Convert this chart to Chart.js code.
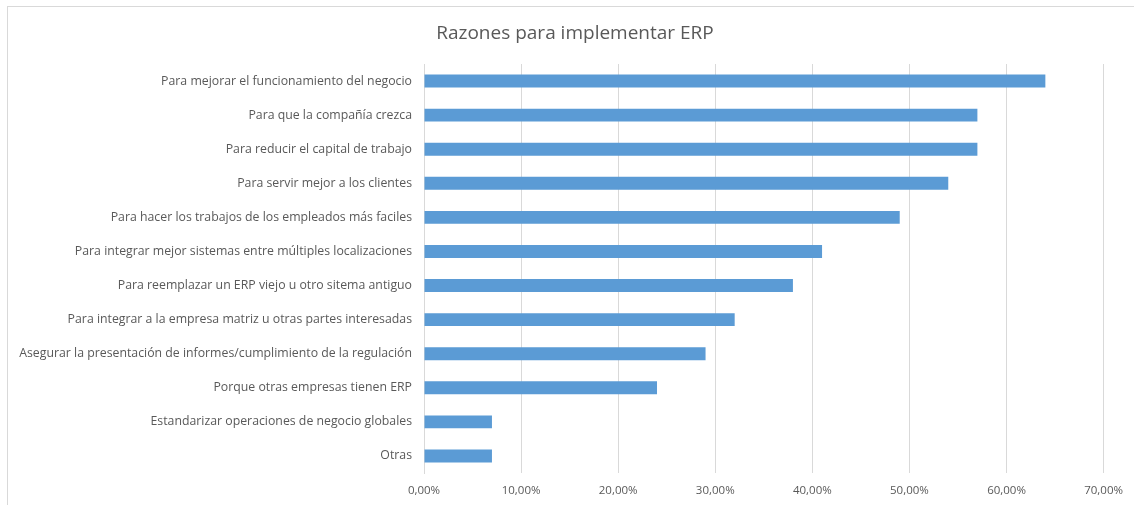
<!DOCTYPE html>
<html>
<head>
<meta charset="utf-8">
<script src="https://cdn.jsdelivr.net/npm/chart.js@4/dist/chart.umd.min.js"></script>
<style>
    html, body { margin: 0; padding: 0; background: #fff; overflow: hidden; }
    #wrap { position: relative; width: 1134px; height: 505px; }
    #frame {
        position: absolute; left: 7px; top: 6px; width: 1200px; height: 600px;
        border-left: 1px solid #d9d9d9; border-top: 1px solid #d9d9d9;
        pointer-events: none;
    }
</style>
</head>
<body>
<div id="wrap">
    <canvas id="chart" width="1134" height="505"></canvas>
    <div id="frame"></div>
</div>
<script>
// data
const chartTitle = 'Razones para implementar ERP';
const categories = [
    'Para mejorar el funcionamiento del negocio',
    'Para que la compañía crezca',
    'Para reducir el capital de trabajo',
    'Para servir mejor a los clientes',
    'Para hacer los trabajos de los empleados más faciles',
    'Para integrar mejor sistemas entre múltiples localizaciones',
    'Para reemplazar un ERP viejo u otro sitema antiguo',
    'Para integrar a la empresa matriz u otras partes interesadas',
    'Asegurar la presentación de informes/cumplimiento de la regulación',
    'Porque otras empresas tienen ERP',
    'Estandarizar operaciones de negocio globales',
    'Otras',
];
const shares = [0.64, 0.57, 0.57, 0.54, 0.49, 0.41, 0.38, 0.32, 0.29, 0.24, 0.07, 0.07];
const xTicks = [0, 0.1, 0.2, 0.3, 0.4, 0.5, 0.6, 0.7];

const FONT = "'Open Sans', sans-serif";
const TEXT = '#595959';
const GRID = '#d9d9d9';

function pct(v) {
    return (v * 100).toFixed(2).replace('.', ',') + '%';
}

// title drawn by hand: the built-in one centres on the whole canvas,
// the original sits a bit further right (centred over the frame)
const titlePlugin = {
    id: 'centredTitle',
    afterDraw(chart) {
        const ctx = chart.ctx;
        ctx.save();
        ctx.font = `normal 19px ${FONT}`;
        ctx.fillStyle = TEXT;
        ctx.textAlign = 'center';
        ctx.textBaseline = 'middle';
        ctx.fillText(chartTitle, 575, 34);
        ctx.restore();
    },
};

new Chart(document.getElementById('chart'), {
    type: 'bar',
    data: {
        labels: categories,
        datasets: [{
            data: shares,
            backgroundColor: '#5b9bd5',
            borderWidth: 0,
            barPercentage: 0.76,
            categoryPercentage: 0.5,
        }],
    },
    plugins: [titlePlugin],
    options: {
        indexAxis: 'y',
        responsive: false,
        animation: false,
        layout: { padding: { left: 0, right: 29, top: 64, bottom: 0 } },
        plugins: {
            legend: { display: false },
            tooltip: { enabled: false },
            title: { display: false },
        },
        scales: {
            x: {
                min: 0,
                max: 0.7,
                afterBuildTicks: axis => { axis.ticks = xTicks.map(v => ({ value: v })); },
                afterFit: axis => { axis.height = 32; },
                grid: { color: GRID, drawTicks: false },
                border: { display: false },
                ticks: {
                    color: TEXT,
                    padding: 11,
                    font: { family: FONT, size: 11.5 },
                    callback: v => pct(v),
                },
            },
            y: {
                afterFit: axis => { axis.width = 424; },
                grid: { display: false, drawTicks: false },
                border: { display: true, color: GRID },
                ticks: {
                    color: TEXT,
                    padding: 12,
                    autoSkip: false,
                    font: { family: FONT, size: 12.3 },
                },
            },
        },
    },
});
</script>
</body>
</html>
